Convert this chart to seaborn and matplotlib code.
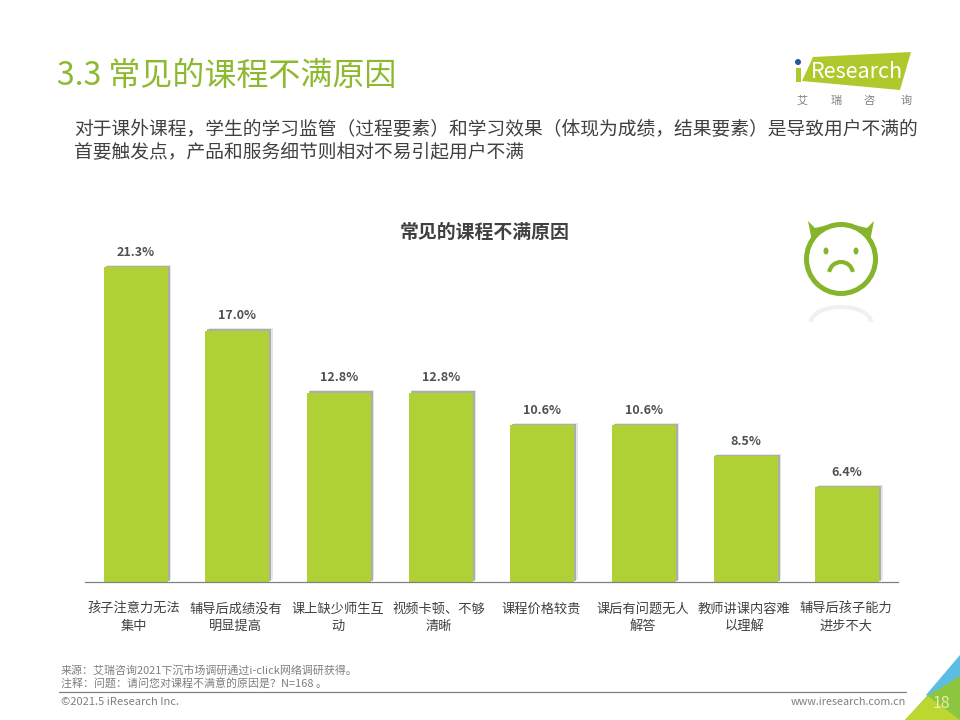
import matplotlib
matplotlib.use("Agg")
import matplotlib.pyplot as plt
import matplotlib.patheffects as pe
from matplotlib.patches import Arc, Circle, Ellipse, Polygon, Rectangle
from matplotlib.transforms import ScaledTranslation
import pandas as pd
import seaborn as sns

# chart data
reasons = ["孩子注意力无法\n集中", "辅导后成绩没有\n明显提高", "课上缺少师生互\n动", "视频卡顿、不够\n清晰",
           "课程价格较贵", "课后有问题无人\n解答", "教师讲课内容难\n以理解", "辅导后孩子能力\n进步不大"]
shares = [21.3, 17.0, 12.8, 12.8, 10.6, 10.6, 8.5, 6.4]
share_labels = ["21.3%", "17.0%", "12.8%", "12.8%", "10.6%", "10.6%", "8.5%", "6.4%"]

page_title = "3.3 常见的课程不满原因"
subtitle_lines = ["对于课外课程，学生的学习监管（过程要素）和学习效果（体现为成绩，结果要素）是导致用户不满的",
                  "首要触发点，产品和服务细节则相对不易引起用户不满"]
chart_title = "常见的课程不满原因"
source_lines = ["来源：艾瑞咨询2021下沉市场调研通过i-click网络调研获得。",
                "注释：问题：请问您对课程不满意的原因是？N=168 。"]
copyright_text = "©2021.5 iResearch Inc."
site_text = "www.iresearch.com.cn"
logo_cn = ["艾", "瑞", "咨", "询"]
page_no = "18"

GREEN = "#AFD136"
TITLE_GREEN = "#8DB92E"
DARK = "#404040"
GREY = "#7F7F7F"

sns.set_theme(style="white")
plt.rcParams["font.family"] = ["Noto Sans CJK SC", "DejaVu Sans"]

fig = plt.figure(figsize=(9.6, 7.2), dpi=100, facecolor="white")

# bar chart, placed in pixels: x 85-898, baseline y=582
ax = fig.add_axes([85 / 960, (720 - 582) / 720, 813 / 960, 340 / 720])
df = pd.DataFrame({"reason": reasons, "share": shares})
sns.barplot(data=df, x="reason", y="share", color=GREEN, saturation=1, width=0.63, linewidth=0, ax=ax)
ax.set_xlim(-0.5, 7.5)
ax.set_ylim(0, 340 / 14.79)
ax.set_xlabel("")
ax.set_ylabel("")
ax.set_yticks([])
ax.tick_params(axis="x", length=0, pad=15, labelsize=9.5, labelcolor="#404040")
nudge = ScaledTranslation(-1.5 / 100, 0, fig.dpi_scale_trans)
for lbl in ax.get_xticklabels():
    lbl.set_linespacing(1.42)
    lbl.set_transform(lbl.get_transform() + nudge)
sns.despine(ax=ax, left=True)
ax.spines["bottom"].set_color("#808080")
ax.spines["bottom"].set_linewidth(0.9)
ax.patch.set_alpha(0)

# soft grey shadow on the bars
for bar in ax.patches:
    bar.set_edgecolor("none")
    bar.set_path_effects([
        pe.SimplePatchShadow(offset=(2.4, 1.6), shadow_rgbFace="#cfcfcf", alpha=0.5),
        pe.SimplePatchShadow(offset=(1.4, 0.9), shadow_rgbFace="#969696", alpha=0.7),
        pe.Normal(),
    ])
for i, txt in enumerate(share_labels):
    ax.annotate(txt, (i, shares[i]), xytext=(0, 6), textcoords="offset points", ha="center", va="bottom",
                fontsize=9, fontweight="bold", color="#505050")

# overlay in image pixels for the slide furniture
page = fig.add_axes([0, 0, 1, 1], zorder=3)
page.set_xlim(0, 960)
page.set_ylim(720, 0)
page.axis("off")

page.text(57, 76, page_title, fontsize=23, color=TITLE_GREEN, va="center", ha="left")
page.text(74, 130, subtitle_lines[0], fontsize=13.5, color=DARK, va="center", ha="left")
page.text(74, 152, subtitle_lines[1], fontsize=13.5, color=DARK, va="center", ha="left")
page.text(485, 232, chart_title, fontsize=13.6, fontweight="bold", color=DARK, va="center", ha="center")

page.text(61, 670, source_lines[0], fontsize=7.9, color=GREY, va="center", ha="left")
page.text(61, 683, source_lines[1], fontsize=7.9, color=GREY, va="center", ha="left")
page.plot([59, 906], [692, 692], color="#808080", lw=0.9)
page.text(61, 702, copyright_text, fontsize=8, color=GREY, va="center", ha="left")
page.text(906, 702, site_text, fontsize=7.8, color=GREY, va="center", ha="right")

# corner triangles and page number
page.add_patch(Polygon([(926, 695), (960, 655), (960, 720), (948, 708)], color="#5BBCE4", lw=0))
page.add_patch(Polygon([(905, 720), (927, 696), (960, 676), (960, 720)], color="#8CC63F", lw=0))
page.add_patch(Polygon([(905, 720), (928, 696), (960, 720)], color="#BDD630", lw=0))
page.text(941, 703, page_no, fontsize=11.5, color="#E6F0A0", va="center", ha="center")

# logo
page.add_patch(Polygon([(813, 57), (911, 52), (900, 90), (802, 81)], color="#AEC92B", lw=0))
page.add_patch(Circle((798, 62), 3, color="#1F5C99", lw=0))
page.add_patch(Rectangle((795.5, 68), 5, 14, color="#AEC92B", lw=0))
page.text(811, 72, "Research", fontsize=15.5, color="white", va="center", ha="left")
for x, ch in zip([802, 836, 869, 906], logo_cn):
    page.text(x, 101, ch, fontsize=8, color=GREY, va="center", ha="center")

# devil face and its faint reflection
FACE = "#86B52B"
page.add_patch(Arc((841, 322), 60, 30, theta1=180, theta2=360, color="#F0F0F0", lw=3))
page.add_patch(Polygon([(808, 221), (815, 228), (828, 225), (812, 241)], color=FACE, lw=0))
page.add_patch(Polygon([(874, 221), (867, 228), (854, 225), (870, 241)], color=FACE, lw=0))
page.add_patch(Circle((841, 259), 34.5, fill=False, edgecolor=FACE, lw=3.6))
page.add_patch(Ellipse((826, 251), 5, 7, color=FACE, lw=0))
page.add_patch(Ellipse((856, 251), 5, 7, color=FACE, lw=0))
page.add_patch(Arc((841, 274), 24, 24, theta1=190, theta2=350, color=FACE, lw=3))

fig.savefig("out.png", dpi=100)
